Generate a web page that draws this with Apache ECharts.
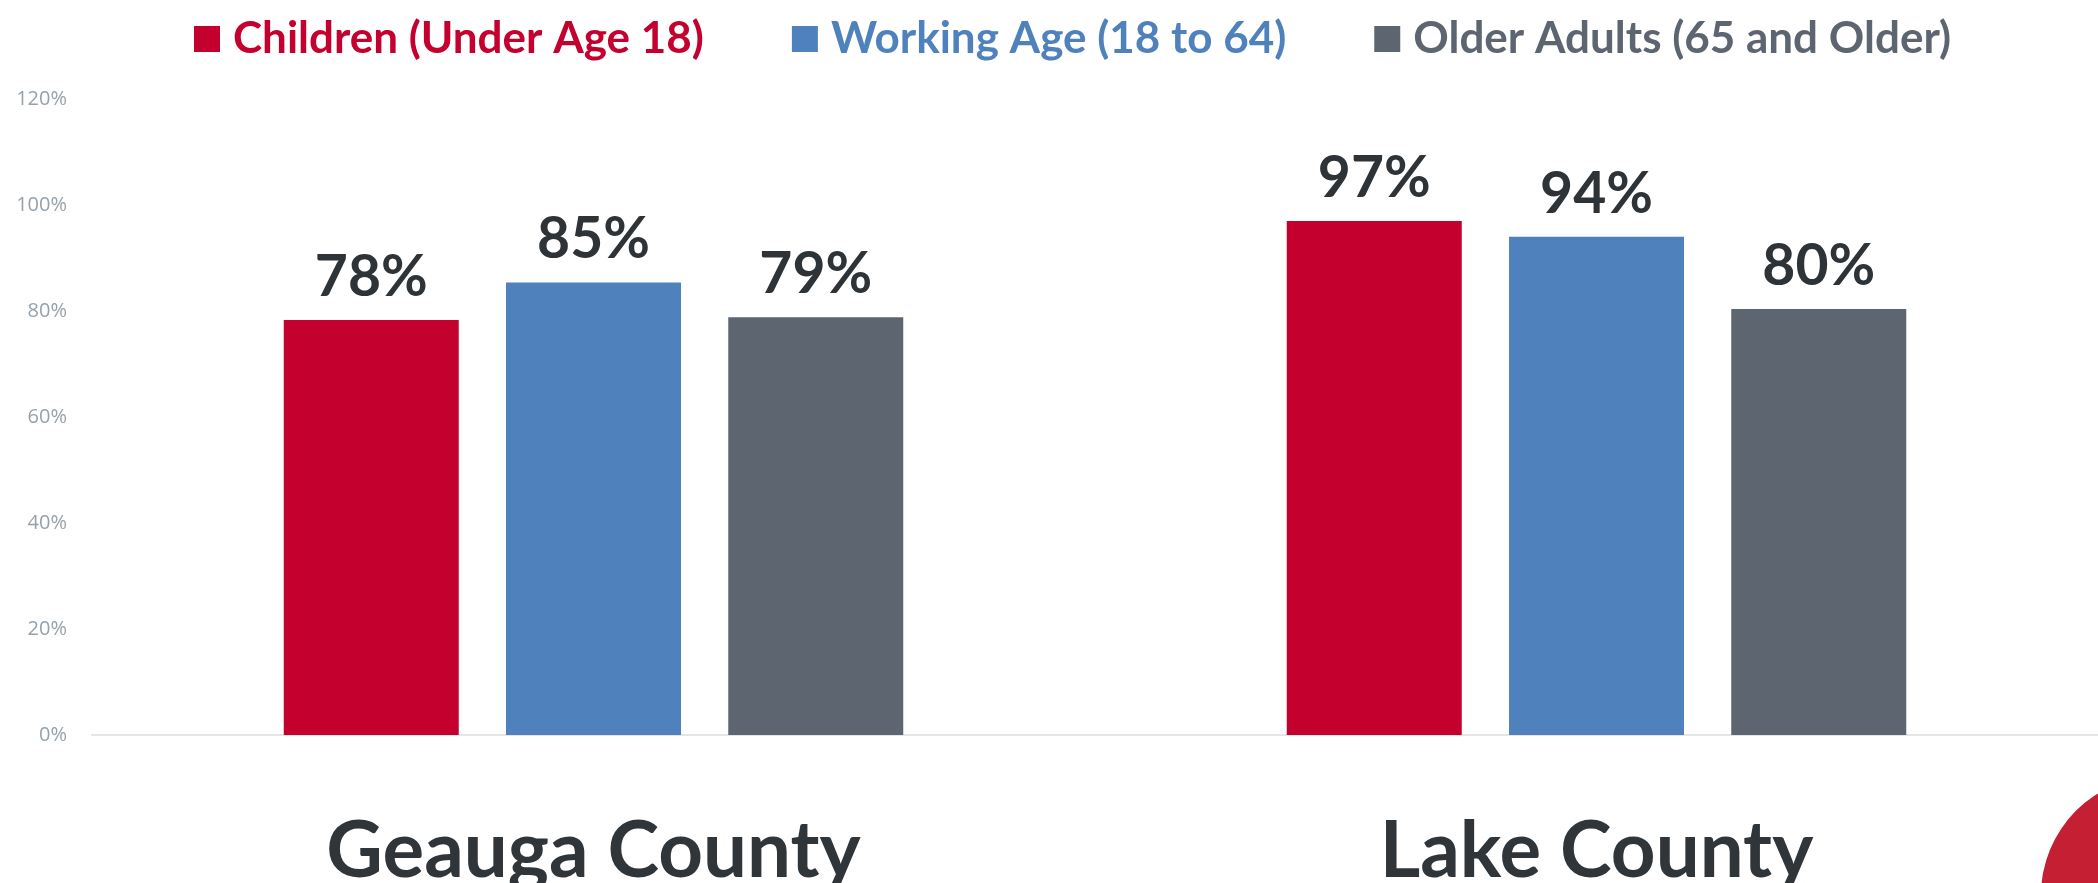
<!DOCTYPE html>
<html>
<head>
<meta charset="utf-8">
<script src="https://cdn.jsdelivr.net/npm/echarts@6/dist/echarts.min.js"></script>
<style>
html,body{margin:0;padding:0;background:#fff;}
#chart{width:2098px;height:883px;}
</style>
</head>
<body>
<div id="chart"></div>
<script>
const categories = ['Geauga County', 'Lake County'];
const seriesNames = ['Children (Under Age 18)', 'Working Age (18 to 64)', 'Older Adults (65 and Older)'];
const children = [78.3, 97.0];
const workingAge = [85.4, 94.0];
const olderAdults = [78.8, 80.4];
const yTicks = [0, 20, 40, 60, 80, 100, 120];
const colors = ['#c4002f', '#4f81bd', '#5d6670'];

const values = [children, workingAge, olderAdults];
const chart = echarts.init(document.getElementById('chart'));
const font = 'Lato, "Open Sans", sans-serif';

chart.setOption({
  animation: false,
  backgroundColor: '#ffffff',
  textStyle: { fontFamily: font },
  legend: {
    top: 12,
    left: 189,
    itemWidth: 26,
    itemHeight: 26,
    itemGap: 88,
    icon: 'rect',
    textStyle: { fontFamily: font, fontWeight: 'bold', fontSize: 44, padding: [0, 0, 0, 8] },
    data: seriesNames.map((n, i) => ({ name: n, textStyle: { color: colors[i] } }))
  },
  grid: { left: 92, right: 0, top: 99, bottom: 148, containLabel: false, outerBoundsMode: 'none' },
  xAxis: {
    type: 'category',
    data: categories,
    axisLine: { show: true, lineStyle: { color: '#e3e5e6', width: 2 } },
    axisTick: { show: false },
    axisLabel: {
      margin: 78,
      fontFamily: font,
      fontWeight: 'bold',
      fontSize: 78,
      color: '#30353a'
    }
  },
  yAxis: {
    type: 'value',
    min: yTicks[0],
    max: yTicks[yTicks.length - 1],
    interval: 20,
    axisLine: { show: false },
    axisTick: { show: false },
    splitLine: { show: false },
    axisLabel: {
      formatter: v => v + '%',
      fontFamily: '"Open Sans", sans-serif',
      fontSize: 20,
      color: '#95a2ad',
      margin: 25
    }
  },
  graphic: [{
    type: 'circle',
    shape: { cx: 2160, cy: 895, r: 119 },
    style: { fill: '#c41f33' },
    z: -1,
    silent: true
  }],
  series: seriesNames.map((n, i) => ({
    name: n,
    type: 'bar',
    data: values[i],
    barWidth: 175,
    barGap: '27%',
    itemStyle: { color: colors[i] },
    label: {
      show: true,
      position: 'top',
      distance: 14,
      formatter: p => Math.round(p.value) + '%',
      fontFamily: font,
      fontWeight: 'bold',
      fontSize: 57,
      color: '#2e3338'
    }
  }))
});
</script>
</body>
</html>
